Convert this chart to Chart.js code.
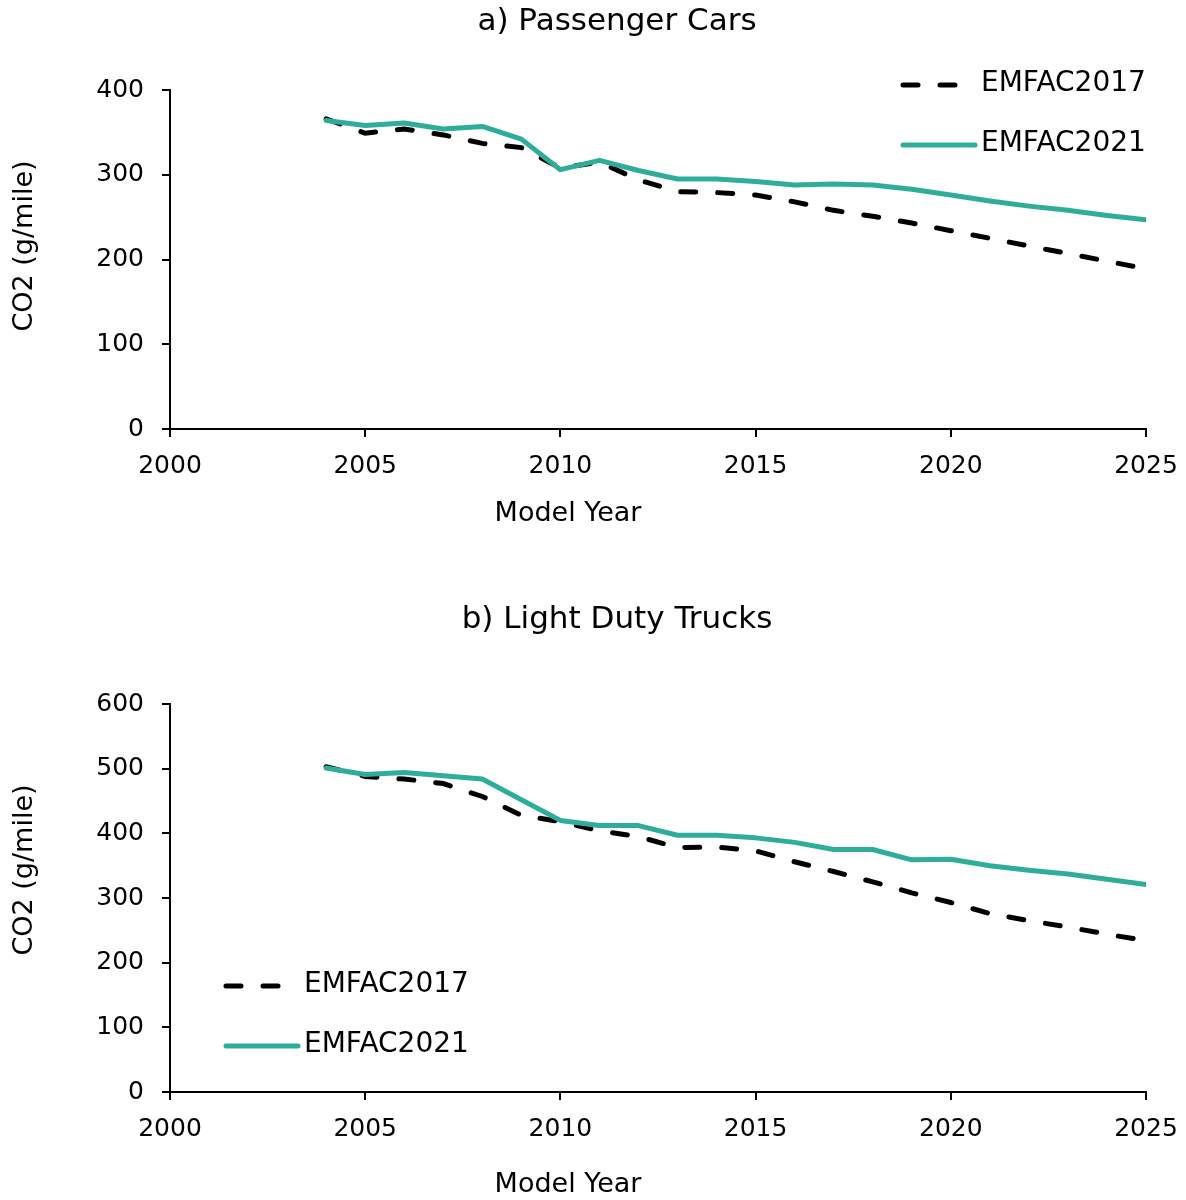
<!DOCTYPE html>
<html>
<head>
<meta charset="utf-8">
<script src="https://cdn.jsdelivr.net/npm/chart.js@4.4.0/dist/chart.umd.min.js"></script>
<style>
  body { margin: 0; background: #fff; width: 1186px; height: 1200px; overflow: hidden; position: relative; }
  .panel { position: absolute; left: 0; width: 1186px; }
</style>
</head>
<body>
<div class="panel" style="top:0;height:580px"><canvas id="cars"></canvas></div>
<div class="panel" style="top:580px;height:620px"><canvas id="trucks"></canvas></div>
<script>
const years = [2004, 2005, 2006, 2007, 2008, 2009, 2010, 2011, 2012, 2013, 2014,
               2015, 2016, 2017, 2018, 2019, 2020, 2021, 2022, 2023, 2024, 2025];

const carsEmfac2017 = [366, 349, 354, 347, 337, 332, 308, 315, 294, 280, 279,
                       276, 268, 258, 251, 243, 234, 225, 216, 207, 198, 189];
const carsEmfac2021 = [364, 358, 361, 354, 357, 342, 306, 317, 305, 295, 295,
                       292, 288, 289, 288, 283, 276, 269, 263, 258, 252, 247];

const trucksEmfac2017 = [503, 488, 484, 477, 457, 428, 418, 404, 395, 378, 379,
                         373, 356, 341, 325, 308, 293, 276, 265, 255, 244, 234];
const trucksEmfac2021 = [501, 491, 494, 489, 484, 452, 420, 412, 412, 397, 397,
                         393, 386, 375, 375, 359, 360, 350, 343, 337, 329, 321];

const xTicks = [2000, 2005, 2010, 2015, 2020, 2025];
const carsYTicks = [0, 100, 200, 300, 400];
const trucksYTicks = [0, 100, 200, 300, 400, 500, 600];

const TEAL = '#2EAE9A';
const labelFont = 'DejaVu Sans';

const toPoints = (vals) => years.map((yr, i) => ({ x: yr, y: vals[i] }));

const makeDatasets = (old, recent) => [
  {
    label: 'EMFAC2017',
    data: toPoints(old),
    borderColor: '#000',
    borderWidth: 5,
    borderDash: [15, 22],
    borderCapStyle: 'round',
    pointRadius: 0,
    order: 2
  },
  {
    label: 'EMFAC2021',
    data: toPoints(recent),
    borderColor: TEAL,
    borderWidth: 5,
    borderCapStyle: 'round',
    borderJoinStyle: 'round',
    pointRadius: 0,
    order: 1
  }
];

// panel title, axis titles and the in-plot legend
const panelDecor = {
  id: 'panelDecor',
  afterDraw(chart, args, opts) {
    const { ctx, chartArea } = chart;
    ctx.save();
    ctx.fillStyle = '#000';
    ctx.textBaseline = 'middle';
    ctx.textAlign = 'center';

    ctx.font = `31px "${labelFont}"`;
    ctx.fillText(opts.title, 617, opts.titleY);

    ctx.font = `27px "${labelFont}"`;
    ctx.fillText('Model Year', 568, chartArea.bottom + opts.xTitleGap);

    ctx.save();
    ctx.translate(25, chartArea.top + opts.yTitleOffset);
    ctx.rotate(-Math.PI / 2);
    ctx.fillText('CO2 (g/mile)', 0, 0);
    ctx.restore();

    let x0, y0;
    if (opts.legendAt === 'topRight') {
      x0 = chartArea.right - 243;
      y0 = chartArea.top - 5;
    } else {
      x0 = chartArea.left + 56;
      y0 = chartArea.bottom - 106;
    }
    ctx.font = `28px "${labelFont}"`;
    ctx.textAlign = 'left';
    chart.data.datasets.forEach((ds, i) => {
      const y = y0 + i * 60;
      ctx.beginPath();
      ctx.strokeStyle = ds.borderColor;
      ctx.lineWidth = ds.borderWidth;
      ctx.lineCap = 'round';
      ctx.setLineDash(ds.borderDash || []);
      ctx.moveTo(x0, y);
      ctx.lineTo(x0 + 72, y);
      ctx.stroke();
      ctx.setLineDash([]);
      ctx.fillText(ds.label, x0 + 78, y - 1);
    });
    ctx.restore();
  }
};

function makeScales(yMax, yTicks, xHeight) {
  return {
    x: {
      type: 'linear',
      min: xTicks[0],
      max: xTicks[xTicks.length - 1],
      border: { color: '#000', width: 2 },
      grid: { drawOnChartArea: false, drawTicks: true, tickLength: 8, color: '#000', lineWidth: 2 },
      afterBuildTicks: (s) => { s.ticks = xTicks.map(v => ({ value: v })); },
      ticks: {
        color: '#000',
        padding: 14,
        maxRotation: 0,
        font: { family: labelFont, size: 25 },
        callback: (v) => String(v)
      },
      afterFit: (s) => {
        s.height = xHeight;
        s.paddingLeft = 0;
        s.paddingRight = 0;
      }
    },
    y: {
      min: 0,
      max: yMax,
      border: { color: '#000', width: 2 },
      grid: { drawOnChartArea: false, drawTicks: true, tickLength: 8, color: '#000', lineWidth: 2 },
      afterBuildTicks: (s) => { s.ticks = yTicks.map(v => ({ value: v })); },
      ticks: {
        color: '#000',
        padding: 18,
        font: { family: labelFont, size: 25 }
      },
      afterFit: (s) => {
        s.width = 170;
        s.paddingTop = 0;
        s.paddingBottom = 0;
      }
    }
  };
}

function makeChart(id, datasets, cfg) {
  return new Chart(document.getElementById(id), {
    type: 'line',
    data: { datasets },
    options: {
      responsive: true,
      maintainAspectRatio: false,
      animation: false,
      layout: { padding: { top: cfg.padTop, right: 40, left: 0, bottom: 0 } },
      scales: makeScales(cfg.yMax, cfg.yTicks, cfg.xHeight),
      plugins: {
        legend: { display: false },
        tooltip: { enabled: false },
        panelDecor: {
          title: cfg.title, titleY: cfg.titleY, legendAt: cfg.legendAt,
          xTitleGap: cfg.xTitleGap, yTitleOffset: cfg.yTitleOffset
        }
      }
    },
    plugins: [panelDecor]
  });
}

makeChart('cars', makeDatasets(carsEmfac2017, carsEmfac2021), {
  title: 'a) Passenger Cars', titleY: 22, legendAt: 'topRight',
  yMax: 400, yTicks: carsYTicks, padTop: 90, xHeight: 151,
  xTitleGap: 85, yTitleOffset: 156
});

makeChart('trucks', makeDatasets(trucksEmfac2017, trucksEmfac2021), {
  title: 'b) Light Duty Trucks', titleY: 40, legendAt: 'bottomLeft',
  yMax: 600, yTicks: trucksYTicks, padTop: 124, xHeight: 108,
  xTitleGap: 93, yTitleOffset: 166
});
</script>
</body>
</html>
